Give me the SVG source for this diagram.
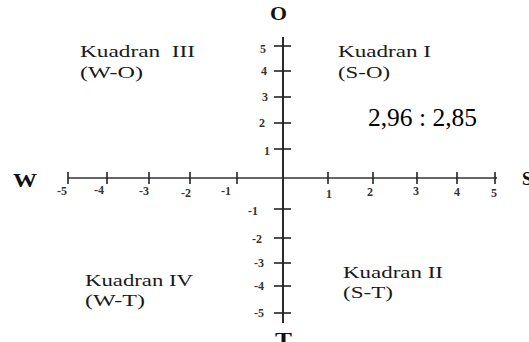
<svg xmlns="http://www.w3.org/2000/svg" width="529" height="342" viewBox="0 0 529 342">
<style>
.q{font-family:"Liberation Serif","Times New Roman",serif;font-size:17px;fill:#1a1a1a}
.n{font-family:"Liberation Serif","Times New Roman",serif;font-size:12px;fill:#333;font-weight:bold}
.ax{font-family:"Liberation Serif","Times New Roman",serif;font-size:18px;fill:#111;font-weight:bold}
.tick{stroke:#222;stroke-width:1.6}
</style>
<rect width="529" height="342" fill="#fff"/>
<g id="axes">
<line x1="68" y1="178" x2="497" y2="178" stroke="#666" stroke-width="2"/>
<line x1="283" y1="37" x2="283" y2="323" stroke="#2a2a2a" stroke-width="2"/>
<g class="tick">
<line x1="68" y1="172" x2="68" y2="184"/>
<line x1="107" y1="172" x2="107" y2="184"/>
<line x1="149" y1="172" x2="149" y2="184"/>
<line x1="190" y1="172" x2="190" y2="184"/>
<line x1="237" y1="172" x2="237" y2="184"/>
<line x1="328" y1="172" x2="328" y2="184"/>
<line x1="373" y1="172" x2="373" y2="184"/>
<line x1="417" y1="172" x2="417" y2="184"/>
<line x1="457" y1="172" x2="457" y2="184"/>
<line x1="495" y1="172" x2="495" y2="184"/>
<line x1="274" y1="46" x2="291" y2="46"/>
<line x1="274" y1="71" x2="291" y2="71"/>
<line x1="274" y1="97" x2="291" y2="97"/>
<line x1="274" y1="123" x2="291" y2="123"/>
<line x1="274" y1="149" x2="291" y2="149"/>
<line x1="274" y1="209" x2="291" y2="209"/>
<line x1="274" y1="238" x2="291" y2="238"/>
<line x1="274" y1="263" x2="291" y2="263"/>
<line x1="274" y1="286" x2="291" y2="286"/>
<line x1="274" y1="313" x2="291" y2="313"/>
</g>
</g>
<g id="tick-labels" class="n">
<text x="57" y="195">-5</text>
<text x="94" y="194">-4</text>
<text x="139" y="195">-3</text>
<text x="181" y="197">-2</text>
<text x="221" y="195">-1</text>
<text x="326" y="198">1</text>
<text x="367" y="196">2</text>
<text x="413" y="195">3</text>
<text x="454" y="196">4</text>
<text x="491" y="197">5</text>
<text x="260" y="53">5</text>
<text x="261" y="75">4</text>
<text x="262" y="101">3</text>
<text x="259" y="127">2</text>
<text x="264" y="155">1</text>
<text x="248" y="215">-1</text>
<text x="252" y="243">-2</text>
<text x="254" y="267">-3</text>
<text x="254" y="290">-4</text>
<text x="254" y="317">-5</text>
</g>
<g id="axis-O"><text class="ax" x="270" y="20" textLength="17" lengthAdjust="spacingAndGlyphs">O</text></g>
<g id="axis-W"><text class="ax" x="13" y="187" textLength="24" lengthAdjust="spacingAndGlyphs">W</text></g>
<g id="axis-S"><text class="ax" x="522" y="185">S</text></g>
<g id="axis-T"><text class="ax" x="275" y="346" textLength="17" lengthAdjust="spacingAndGlyphs">T</text></g>
<g id="kuadran-3">
<text class="q" x="80" y="57" textLength="115" lengthAdjust="spacingAndGlyphs" xml:space="preserve">Kuadran  III</text>
<text class="q" x="80" y="78" textLength="63" lengthAdjust="spacingAndGlyphs">(W-O)</text>
</g>
<g id="kuadran-1">
<text class="q" x="338" y="57" textLength="93" lengthAdjust="spacingAndGlyphs">Kuadran I</text>
<text class="q" x="338" y="78" textLength="52" lengthAdjust="spacingAndGlyphs">(S-O)</text>
</g>
<g id="value">
<text x="368" y="126" font-family="Liberation Serif, Times New Roman, serif" font-size="25" fill="#000" textLength="109" lengthAdjust="spacingAndGlyphs">2,96 : 2,85</text>
</g>
<g id="kuadran-4">
<text class="q" x="85" y="286" textLength="108" lengthAdjust="spacingAndGlyphs">Kuadran IV</text>
<text class="q" x="85" y="306" textLength="60" lengthAdjust="spacingAndGlyphs">(W-T)</text>
</g>
<g id="kuadran-2">
<text class="q" x="343" y="278" textLength="100" lengthAdjust="spacingAndGlyphs">Kuadran II</text>
<text class="q" x="343" y="298" textLength="50" lengthAdjust="spacingAndGlyphs">(S-T)</text>
</g>
</svg>
